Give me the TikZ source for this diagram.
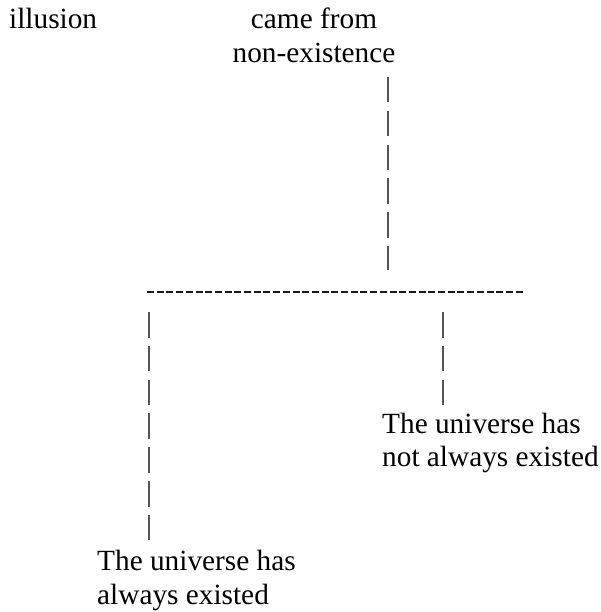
\documentclass[tikz,border=0pt]{standalone}
\usepackage{fontspec}
\setmainfont{Liberation Serif}
\usepackage{tikz}
\usetikzlibrary{positioning}
\definecolor{ink}   {HTML}{000000}
\definecolor{pipec} {HTML}{555555}
\definecolor{barc}  {HTML}{1A1A1A}
\tikzset{
  lbl/.style  = {inner sep=0pt, text=ink, font=\fontsize{29.3pt}{33.5pt}\selectfont},
  pipe/.style = {draw=pipec, line width=2.1pt, dash pattern=on 25.5pt off 8.3pt},
  bar/.style  = {draw=barc, line width=2.3pt, dash pattern=on 7pt off 2.7pt},
}
\begin{document}
\begin{tikzpicture}[x=1pt, y=-1pt]
  \useasboundingbox (0,0) rectangle (601,612);

  % base of a two-line label is its last line
  \node[lbl, anchor=base west] (illusion) at (9,29) {illusion};
  \node[lbl, anchor=base, align=center] (origin) at (314,62.5) {came from\\non-existence};
  \node[lbl, anchor=base west, align=left] (notalways) at (382,466.5) {The universe has\\not always existed};
  \node[lbl, anchor=base west, align=left] (always) at (97,604) {The universe has\\always existed};

  % joints of the tree
  \coordinate (stem) at (388,270);
  \coordinate (barL) at (147,292);
  \coordinate (barR) at (525,292);
  \coordinate (legL) at (148.7,312);
  \coordinate (legR) at (442.7,312);

  \draw[pipe] (stem |- 0,77) -- (stem);
  \draw[bar] (barL) -- (barR);
  \draw[pipe] (legL) -- (legL |- 0,540);
  \draw[pipe] (legR) -- (legR |- 0,407);
\end{tikzpicture}
\end{document}
